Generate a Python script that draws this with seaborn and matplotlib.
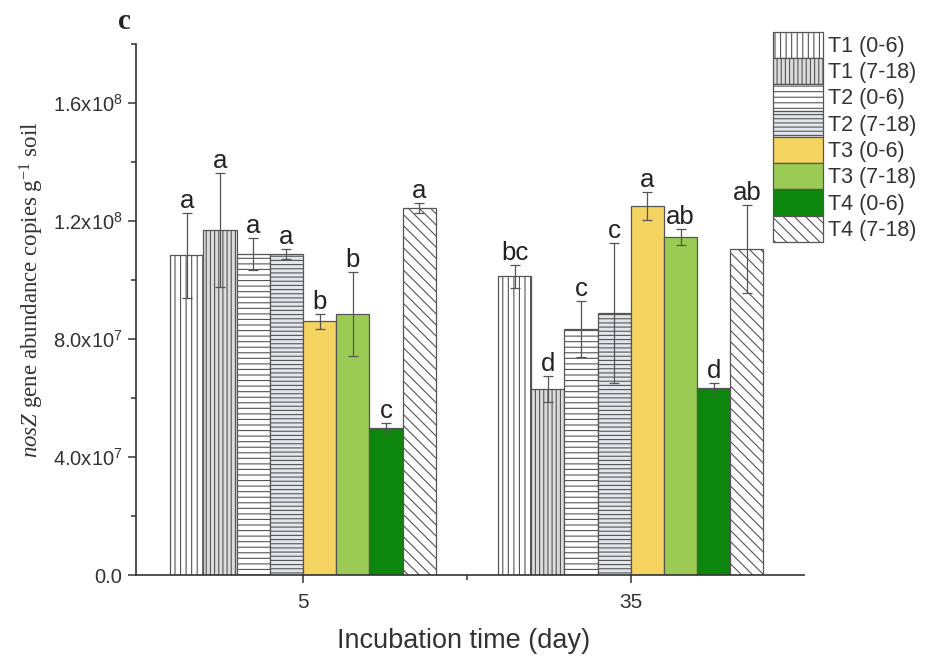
import numpy as np
import pandas as pd
import matplotlib
matplotlib.use("Agg")
import matplotlib.pyplot as plt
import seaborn as sns
from matplotlib.ticker import FuncFormatter, MultipleLocator, FixedLocator

# data
days = ["5", "35"]
treatments = ["T1 (0-6)", "T1 (7-18)", "T2 (0-6)", "T2 (7-18)",
              "T3 (0-6)", "T3 (7-18)", "T4 (0-6)", "T4 (7-18)"]
day5_mean = [1.085e8, 1.17e8, 1.088e8, 1.088e8, 8.6e7, 8.85e7, 5.0e7, 1.244e8]
day35_mean = [1.013e8, 6.3e7, 8.34e7, 8.88e7, 1.251e8, 1.146e8, 6.34e7, 1.105e8]
day5_err = [1.44e7, 1.93e7, 5.4e6, 1.7e6, 2.7e6, 1.42e7, 1.7e6, 1.7e6]
day35_err = [4.0e6, 4.4e6, 9.5e6, 2.37e7, 4.7e6, 2.7e6, 1.7e6, 1.5e7]
day5_letters = ["a", "a", "a", "a", "b", "b", "c", "a"]
day35_letters = ["bc", "d", "c", "c", "a", "ab", "d", "ab"]

colors = ["white", "#dcdcdc", "white", "#e2e5ec",
          "#f5d360", "#9bcb55", "#0c860c", "white"]
hatches = ["|||", "||||", "---", "----", "", "", "", "\\\\\\"]

df = pd.DataFrame({
    "day": days[0:1] * 8 + days[1:2] * 8,
    "treatment": treatments * 2,
    "value": day5_mean + day35_mean,
})

sns.set_style("ticks")
plt.rcParams["font.family"] = ["Liberation Sans", "DejaVu Sans"]
plt.rcParams["mathtext.fontset"] = "custom"
plt.rcParams["mathtext.rm"] = "Liberation Serif"
plt.rcParams["mathtext.it"] = "Liberation Serif:italic"
plt.rcParams["hatch.color"] = "#6e6e6e"
plt.rcParams["hatch.linewidth"] = 0.8

fig = plt.figure(figsize=(9.3, 6.61), dpi=100)
ax = fig.add_axes([0.146, 0.130, 0.719, 0.803])

sns.barplot(data=df, x="day", y="value", hue="treatment", order=days,
            hue_order=treatments, palette=colors, width=0.81, gap=0,
            edgecolor="#555555", linewidth=0.9, errorbar=None, legend=False, ax=ax)

bar_conts = list(ax.containers)
errs = [day5_err, day35_err]
lets = [day5_letters, day35_letters]
for i, cont in enumerate(bar_conts):
    for j, bar in enumerate(cont):
        bar.set_hatch(hatches[i])
        bar.set_facecolor(colors[i])
        x = bar.get_x() + bar.get_width() / 2
        h = bar.get_height()
        e = errs[j][i]
        ax.errorbar(x, h, yerr=e, color="#555555", lw=0.9, capsize=3.5,
                    capthick=0.9, zorder=5)
        ax.annotate(lets[j][i], (x, h + e), xytext=(0, 0), textcoords="offset points",
                    ha="center", va="bottom", fontsize=18.5, color="#222222")

ax.set_ylim(0, 1.8e8)
ax.set_xlim(-0.51, 1.53)
ax.yaxis.set_major_locator(MultipleLocator(4e7))
ax.yaxis.set_minor_locator(MultipleLocator(2e7))
ax.xaxis.set_minor_locator(FixedLocator([0.5]))


def fmt(v, pos):
    if v <= 0:
        return "0.0"
    e = int(np.floor(np.log10(v)))
    m = v / 10 ** e
    return f"{m:.1f}x10$\\mathregular{{^{{{e}}}}}$"


ax.yaxis.set_major_formatter(FuncFormatter(fmt))
ax.tick_params(axis="both", which="major", length=6, width=1.1, color="#333333",
               labelcolor="#333333")
ax.tick_params(axis="y", which="major", labelsize=14.5)
ax.tick_params(axis="x", which="major", labelsize=15, pad=7)
ax.tick_params(axis="both", which="minor", length=3.5, width=1.1, color="#333333")
for s in ["left", "bottom"]:
    ax.spines[s].set_color("#333333")
    ax.spines[s].set_linewidth(1.2)
sns.despine(ax=ax)

ax.set_xlabel("Incubation time (day)", fontsize=19.5, color="#333333")
ax.xaxis.set_label_coords(0.49, -0.099)
ax.set_ylabel(r"$\mathit{nosZ}$ gene abundance copies g$^{-1}$ soil",
              fontsize=16.5, color="#333333", family="Liberation Serif")
ax.yaxis.set_label_coords(-0.134, 0.537)

handles = [c[0] for c in bar_conts]
fig.legend(handles, treatments, loc="upper left", bbox_to_anchor=(0.831, 0.952),
           frameon=False, fontsize=15.5, handlelength=2.33, handleheight=1.5,
           labelspacing=0.0, handletextpad=0.25, borderpad=0, borderaxespad=0,
           labelcolor="#333333")

fig.text(0.127, 0.967, "c", fontsize=21, fontweight="bold",
         family="Liberation Serif", color="#222222", va="center")

fig.savefig("out.png", dpi=100)
